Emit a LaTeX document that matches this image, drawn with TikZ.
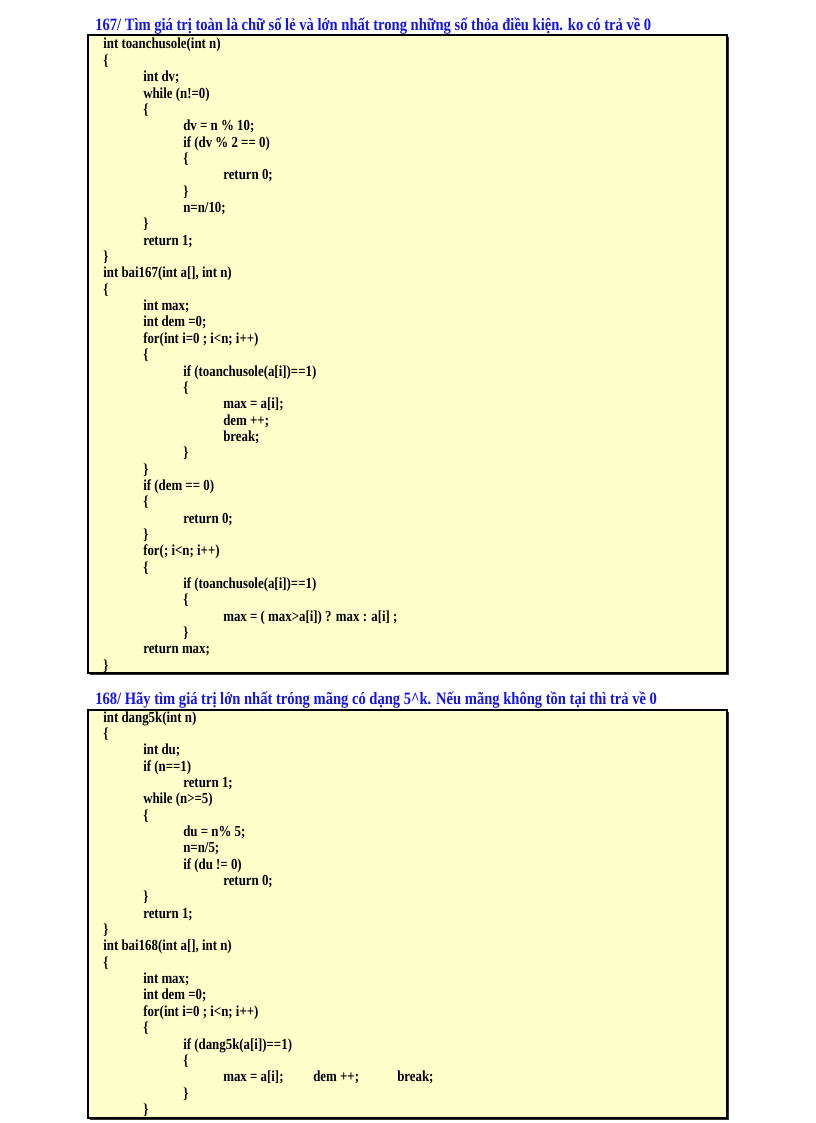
\documentclass[tikz,border=0pt]{standalone}
\usepackage{fontspec}
\setmainfont{Liberation Serif}[FakeStretch=0.84]
\definecolor{ttl}{RGB}{20,20,230}
\definecolor{boxy}{RGB}{255,255,204}
\begin{document}
\begin{tikzpicture}[x=0.75pt,y=-0.75pt,
  code/.style={anchor=base west,inner sep=0,font=\bfseries\fontsize{11.5}{12}\selectfont},
  title/.style={anchor=base west,inner sep=0,text=ttl,font=\bfseries\fontsize{13}{14}\selectfont},
  codebox/.style={draw=black,line width=1pt,fill=boxy}]
\useasboundingbox (0,0) rectangle (816,1123);
\fill[black!80] (90,37) rectangle (729,675);
\draw[codebox] (88,35) rectangle (727,673);
\fill[black!80] (90,712) rectangle (729,1120);
\draw[codebox] (88,710) rectangle (727,1118);
\node[title] (t1) at (95,31) {167/ Tìm giá trị toàn là chữ số lẻ và lớn nhất trong những số thỏa điều kiện. ko có trả về 0};
\node[title] (t2) at (95,704) {168/ Hãy tìm giá trị lớn nhất tróng mãng có dạng 5\^{}k. Nếu mãng không tồn tại thì trả về 0};
\def\rowA#1#2#3{\node[code] (a#1) at (#2,{49+#1*16.35}) {#3};}
\rowA{0}{103}{int toanchusole(int n)}
\rowA{1}{103}{\{}
\rowA{2}{143}{int dv;}
\rowA{3}{143}{while (n!=0)}
\rowA{4}{143}{\{}
\rowA{5}{183}{dv = n \% 10;}
\rowA{6}{183}{if (dv \% 2 == 0)}
\rowA{7}{183}{\{}
\rowA{8}{223}{return 0;}
\rowA{9}{183}{\}}
\rowA{10}{183}{n=n/10;}
\rowA{11}{143}{\}}
\rowA{12}{143}{return 1;}
\rowA{13}{103}{\}}
\rowA{14}{103}{int bai167(int a[], int n)}
\rowA{15}{103}{\{}
\rowA{16}{143}{int max;}
\rowA{17}{143}{int dem =0;}
\rowA{18}{143}{for(int i=0 ; i<n; i++)}
\rowA{19}{143}{\{}
\rowA{20}{183}{if (toanchusole(a[i])==1)}
\rowA{21}{183}{\{}
\rowA{22}{223}{max = a[i];}
\rowA{23}{223}{dem ++;}
\rowA{24}{223}{break;}
\rowA{25}{183}{\}}
\rowA{26}{143}{\}}
\rowA{27}{143}{if (dem == 0)}
\rowA{28}{143}{\{}
\rowA{29}{183}{return 0;}
\rowA{30}{143}{\}}
\rowA{31}{143}{for(; i<n; i++)}
\rowA{32}{143}{\{}
\rowA{33}{183}{if (toanchusole(a[i])==1)}
\rowA{34}{183}{\{}
\rowA{35}{223}{max = ( max>a[i]) ? max : a[i] ;}
\rowA{36}{183}{\}}
\rowA{37}{143}{return max;}
\rowA{38}{103}{\}}
\def\rowB#1#2#3{\node[code] (b#1) at (#2,{722+#1*16.35}) {#3};}
\rowB{0}{103}{int dang5k(int n)}
\rowB{1}{103}{\{}
\rowB{2}{143}{int du;}
\rowB{3}{143}{if (n==1)}
\rowB{4}{183}{return 1;}
\rowB{5}{143}{while (n>=5)}
\rowB{6}{143}{\{}
\rowB{7}{183}{du = n\% 5;}
\rowB{8}{183}{n=n/5;}
\rowB{9}{183}{if (du != 0)}
\rowB{10}{223}{return 0;}
\rowB{11}{143}{\}}
\rowB{12}{143}{return 1;}
\rowB{13}{103}{\}}
\rowB{14}{103}{int bai168(int a[], int n)}
\rowB{15}{103}{\{}
\rowB{16}{143}{int max;}
\rowB{17}{143}{int dem =0;}
\rowB{18}{143}{for(int i=0 ; i<n; i++)}
\rowB{19}{143}{\{}
\rowB{20}{183}{if (dang5k(a[i])==1)}
\rowB{21}{183}{\{}
\rowB{22}{223}{max = a[i];}
\node[code] (b22b) at (313,{722+22*16.35}) {dem ++;};
\node[code] (b22c) at (397,{722+22*16.35}) {break;};
\rowB{23}{183}{\}}
\rowB{24}{143}{\}}
\end{tikzpicture}
\end{document}
